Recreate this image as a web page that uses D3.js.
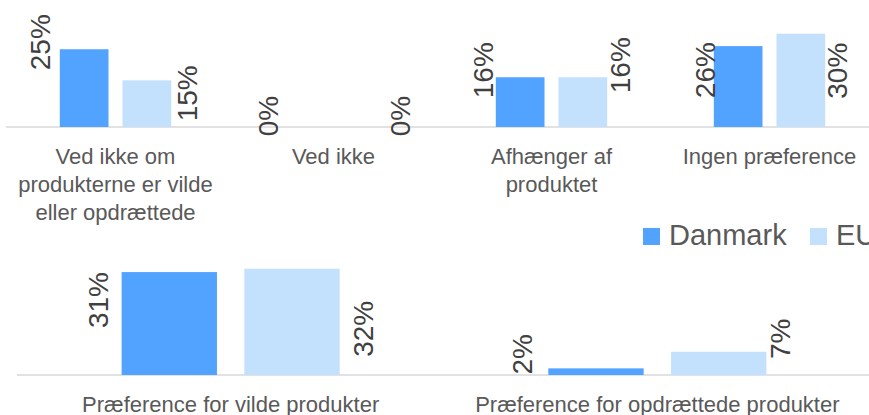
<!DOCTYPE html>
<html>
<head>
<meta charset="utf-8">
<script src="https://cdn.jsdelivr.net/npm/d3@7"></script>
<style>
  body { margin: 0; background: #fff; }
  text { font-family: "Liberation Sans", Arial, sans-serif; }
</style>
</head>
<body>
<div id="chart"></div>
<script>
// data
const series = ["Danmark", "EU"];
const topCategories = [
    ["Ved ikke om", "produkterne er vilde", "eller opdrættede"],
    ["Ved ikke"],
    ["Afhænger af", "produktet"],
    ["Ingen præference"]
];
const topDanmark = [25, 0, 16, 26];
const topEU = [15, 0, 16, 30];

const bottomCategories = [
    ["Præference for vilde produkter"],
    ["Præference for opdrættede produkter"]
];
const bottomDanmark = [31, 2];
const bottomEU = [32, 7];

const colors = {Danmark: "#52a3ff", EU: "#c3e0fd"};

// label nudges (gap from bar edge, shift of label centre from bar top)
const topGap = {Danmark: [10, 0, 3, -1], EU: [6, 1, 3, 2]};
const topShift = {Danmark: [-7, -11, -7, 24], EU: [13, -11, -12, 37]};
const bottomGap = {Danmark: [14, 16], EU: [13, 4]};
const bottomShift = {Danmark: [28, -14], EU: [60, -13]};

const W = 869, H = 415;

var svg = d3.select("#chart")
    .append("svg")
    .attr("width", W)
    .attr("height", H);

function drawPanel(cats, dk, eu, opts) {
    var names = cats.map(c => c.join(" "));
    var rows = names.map((n, i) => ({name: n, lines: cats[i], Danmark: dk[i], EU: eu[i]}));

    var x0 = d3.scaleBand()
        .domain(names)
        .range(opts.xRange);
    var x1 = d3.scaleBand()
        .domain(series)
        .range([0, x0.bandwidth()])
        .paddingInner(0.223)
        .paddingOuter(0.85);
    var y = d3.scaleLinear()
        .domain([0, 35])
        .range([opts.base, opts.base - opts.pxPer * 35]);

    var g = svg.append("g");

    // baseline
    var axis = g.append("g")
        .attr("transform", "translate(0," + opts.base + ")")
        .call(d3.axisBottom(x0).tickSize(0).tickFormat(""));
    axis.select(".domain").remove();
    axis.append("line")
        .attr("x1", opts.lineStart)
        .attr("x2", W)
        .attr("stroke", "#d9d9d9")
        .attr("stroke-width", 1.5);

    // bars
    var grp = g.selectAll(".grp")
        .data(rows)
        .enter()
        .append("g")
        .attr("transform", d => "translate(" + x0(d.name) + ",0)");

    grp.selectAll("rect")
        .data(d => series.map(s => ({key: s, value: d[s]})))
        .enter()
        .append("rect")
        .attr("x", d => x1(d.key))
        .attr("width", x1.bandwidth())
        .attr("y", d => y(d.value))
        .attr("height", d => y(0) - y(d.value))
        .attr("fill", d => colors[d.key]);

    // value labels, rotated
    rows.forEach(function(r, i) {
        series.forEach(function(s) {
            var left = x0(r.name) + x1(s);
            var gx = opts.gap[s][i];
            var lx = s === "Danmark" ? left - gx : left + x1.bandwidth() + gx + 20;
            var ly = y(r[s]) + opts.shift[s][i];
            g.append("text")
                .attr("transform", "translate(" + lx + "," + ly + ") rotate(-90)")
                .attr("text-anchor", "middle")
                .attr("font-size", 28)
                .attr("fill", "#404040")
                .text(r[s] + "%");
        });
    });

    // category labels
    rows.forEach(function(r) {
        var t = g.append("text")
            .attr("text-anchor", "middle")
            .attr("font-size", 22)
            .attr("fill", "#595959");
        r.lines.forEach(function(line, k) {
            t.append("tspan")
                .attr("x", x0(r.name) + x0.bandwidth() / 2)
                .attr("y", opts.base + 37 + k * 28)
                .text(line);
        });
    });
}

drawPanel(topCategories, topDanmark, topEU, {
    xRange: [6.5, 878.5], base: 127, pxPer: 3.11, lineStart: 6,
    gap: topGap, shift: topShift
});
drawPanel(bottomCategories, bottomDanmark, bottomEU, {
    xRange: [17.3, 870.7], base: 375, pxPer: 3.32, lineStart: 17,
    gap: bottomGap, shift: bottomShift
});

// legend
var legend = svg.append("g").attr("transform", "translate(643,228)");
var legX = [0, 167];
series.forEach(function(s, i) {
    legend.append("rect")
        .attr("x", legX[i])
        .attr("y", 0)
        .attr("width", 17)
        .attr("height", 17)
        .attr("fill", colors[s]);
    legend.append("text")
        .attr("x", legX[i] + 26)
        .attr("y", 17)
        .attr("font-size", 29)
        .attr("fill", "#595959")
        .text(s);
});
</script>
</body>
</html>
